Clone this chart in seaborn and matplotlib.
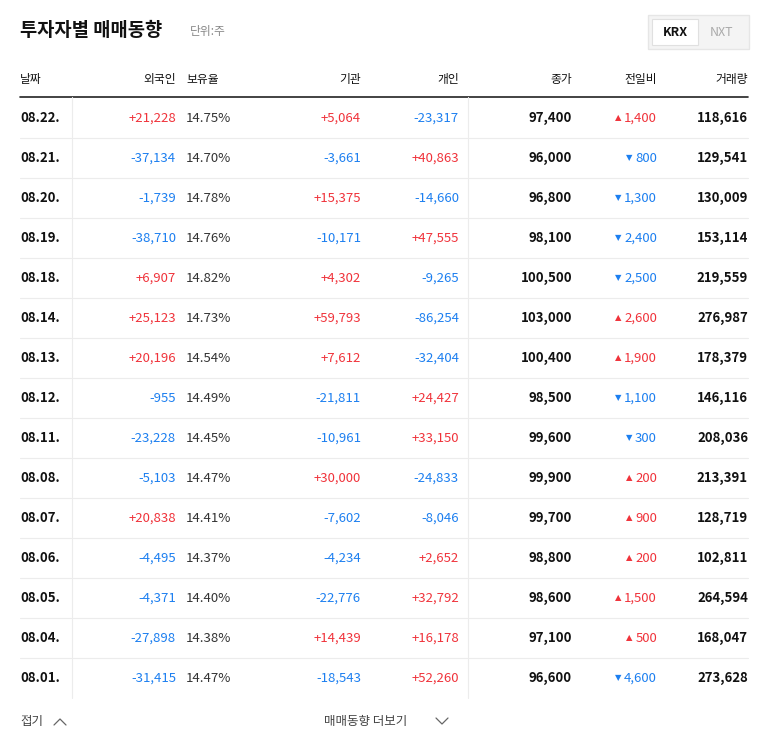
import matplotlib
matplotlib.use("Agg")
import matplotlib.pyplot as plt
import seaborn as sns

dates = ["08.22.","08.21.","08.20.","08.19.","08.18.","08.14.","08.13.","08.12.","08.11.","08.08.","08.07.","08.06.","08.05.","08.04.","08.01."]
foreign = [21228,-37134,-1739,-38710,6907,25123,20196,-955,-23228,-5103,20838,-4495,-4371,-27898,-31415]
ratio = [14.75,14.70,14.78,14.76,14.82,14.73,14.54,14.49,14.45,14.47,14.41,14.37,14.40,14.38,14.47]
inst = [5064,-3661,15375,-10171,4302,59793,7612,-21811,-10961,30000,-7602,-4234,-22776,14439,-18543]
indiv = [-23317,40863,-14660,47555,-9265,-86254,-32404,24427,33150,-24833,-8046,2652,32792,16178,52260]
close = [97400,96000,96800,98100,100500,103000,100400,98500,99600,99900,99700,98800,98600,97100,96600]
change = [1400,-800,-1300,-2400,-2500,2600,1900,-1100,-300,200,900,200,1500,500,-4600]
volume = [118616,129541,130009,153114,219559,276987,178379,146116,208036,213391,128719,102811,264594,168047,273628]
headers = ["날짜","외국인","보유율","기관","개인","종가","전일비","거래량"]

FAM = ["Noto Sans CJK KR", "Noto Sans CJK JP", "Noto Sans CJK SC", "DejaVu Sans"]
sns.set_theme(style="white")
plt.rcParams["font.family"] = FAM
plt.rcParams["font.sans-serif"] = FAM
RED, BLUE, BLK, GRAY = "#f0333b", "#1c7ff0", "#111111", "#888888"

fig = plt.figure(figsize=(7.68, 7.49), dpi=100)
ax = fig.add_axes([0, 0, 1, 1])
ax.set_xlim(0, 768); ax.set_ylim(749, 0); ax.axis("off")

ax.text(20, 31, "투자자별 매매동향", fontsize=13.5, fontweight="bold", color=BLK, va="center")
ax.text(190, 31, "단위:주", fontsize=8.5, color=GRAY, va="center")
ax.add_patch(plt.Rectangle((648, 15), 101, 34, fc="#f4f4f4", ec="#e6e6e6", lw=1))
ax.add_patch(plt.Rectangle((652, 19), 46, 26, fc="white", ec="#e0e0e0", lw=0.8))
ax.text(675, 32, "KRX", fontsize=9, fontweight="bold", color=BLK, ha="center", va="center")
ax.text(722, 32, "NXT", fontsize=9, color="#aaaaaa", ha="center", va="center")

hx = [(20,"left"),(176,"right"),(186,"left"),(361,"right"),(459,"right"),(572,"right"),(657,"right"),(748,"right")]
for h,(x,a) in zip(headers,hx):
    ax.text(x, 80, h, fontsize=8.5, color=BLK, ha=a, va="center")
ax.plot([20,748],[97,97], color="#222222", lw=1.2)

def fmt(v): return f"{v:+,}"
def col(v): return RED if v > 0 else BLUE

for i in range(len(dates)):
    y = 118 + 40*i
    ax.text(20, y, dates[i], fontsize=9.5, fontweight="bold", color=BLK, va="center")
    ax.text(176, y, fmt(foreign[i]), fontsize=9.5, color=col(foreign[i]), ha="right", va="center")
    ax.text(186, y, f"{ratio[i]:.2f}%", fontsize=9.5, color="#333333", va="center")
    ax.text(361, y, fmt(inst[i]), fontsize=9.5, color=col(inst[i]), ha="right", va="center")
    ax.text(459, y, fmt(indiv[i]), fontsize=9.5, color=col(indiv[i]), ha="right", va="center")
    ax.text(572, y, f"{close[i]:,}", fontsize=9.5, fontweight="bold", color=BLK, ha="right", va="center")
    c = change[i]
    s = f"{abs(c):,}"
    ax.text(657, y, s, fontsize=9.5, color=col(c), ha="right", va="center")
    tw = sum(3.5 if ch == "," else 7.3 for ch in s)
    ax.text(657 - tw - 3, y, "▲" if c > 0 else "▼", fontsize=6, color=col(c), ha="right", va="center",
            fontfamily="DejaVu Sans")
    ax.text(748, y, f"{volume[i]:,}", fontsize=9.5, fontweight="bold", color=BLK, ha="right", va="center")
    if i < len(dates)-1:
        ax.plot([20,748],[y+20,y+20], color="#ececec", lw=0.8)
for x in (72, 468):
    ax.plot([x,x],[97,698], color="#ececec", lw=0.8)

ax.text(20, 721, "접기", fontsize=9, color="#444444", va="center")
ax.plot([54,60,66],[725,719,725], color="#666666", lw=0.9)
ax.text(324, 721, "매매동향 더보기", fontsize=9, color="#444444", va="center")
ax.plot([436,442,448],[718,724,718], color="#666666", lw=0.9)

fig.savefig("out.png", dpi=100)
